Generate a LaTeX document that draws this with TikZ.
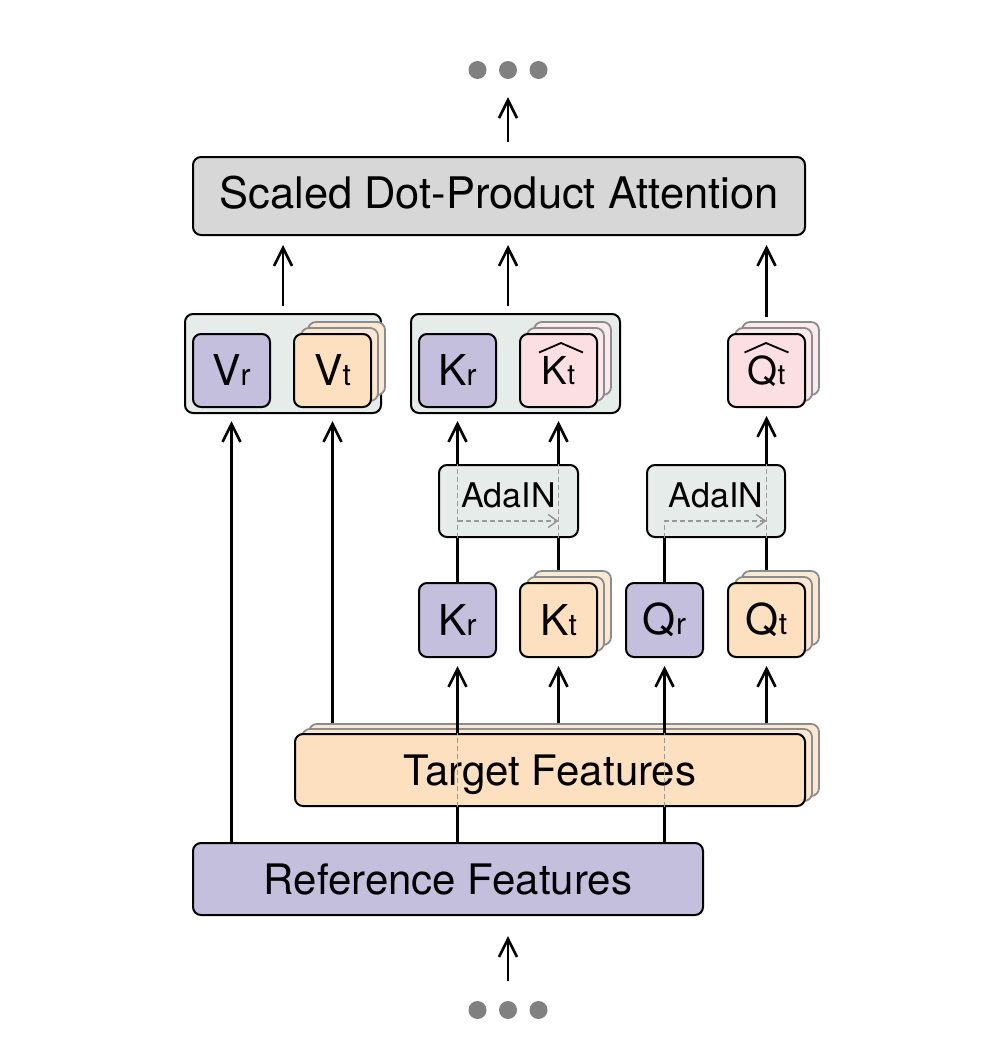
\documentclass[tikz,border=0pt]{standalone}
\usepackage{fontspec}
\setmainfont{TeX Gyre Heros}
\usetikzlibrary{arrows.meta,calc}
\definecolor{lav}{HTML}{C4BFDD}
\definecolor{peach}{HTML}{FDE0BF}
\definecolor{peachL}{HTML}{FBE8D2}
\definecolor{pinkc}{HTML}{FCDFE2}
\definecolor{pinkL}{HTML}{FBEAEB}
\definecolor{grp}{HTML}{E6ECEA}
\definecolor{sdpac}{HTML}{D7D7D7}
\definecolor{dotc}{HTML}{808080}
\newcommand\boxlbl[2]{\fontsize{42.5}{42.5}\selectfont #1\fontsize{30}{30}\selectfont #2}
\newcommand\hatlbl[2]{\fontsize{38.5}{38.5}\selectfont #1\fontsize{28}{28}\selectfont #2}
\begin{document}
\begin{tikzpicture}[x=1pt,y=-1pt,
  box/.style={draw=black, line width=2pt, rounded corners=8pt, inner sep=0pt},
  small/.style={box, minimum width=77pt, minimum height=73pt},
  copybox/.style={small, draw=black!45, line width=1.8pt},
  wide/.style={box, minimum width=510pt, minimum height=72pt},
  ada/.style={box, fill=grp, minimum height=72pt, text height=24pt, text depth=12pt, font=\fontsize{34}{34}\selectfont},
  hatted/.style={small, fill=pinkc, text height=28pt, text depth=-4pt},
  arr/.style={line width=2.6pt, -{Straight Barb[length=18pt,width=18pt,line width=2.6pt]}},
  ln/.style={line width=2.6pt},
  dsh/.style={draw=black!40, line width=1.5pt, dash pattern=on 5pt off 3pt},
  dsharr/.style={dsh, -{Straight Barb[length=9pt,width=13pt,line width=1.5pt]}},
  dotn/.style={circle, fill=dotc, inner sep=0pt, minimum size=18pt}
]
\useasboundingbox (0,0) rectangle (984,1058);

% dots
\node[dotn] (dTl) at (477.5,70) {};
\node[dotn] (dT) at (508,70) {};
\node[dotn] (dTr) at (538.5,70) {};
\node[dotn] (dBl) at (477.5,1010) {};
\node[dotn] (dB) at (508,1010) {};
\node[dotn] (dBr) at (538.5,1010) {};

% SDPA
\node[box, fill=sdpac, minimum width=612pt, minimum height=78pt, text height=30pt, text depth=5pt, font=\fontsize{43.5}{43.5}\selectfont] (sdpa) at (499,196) {Scaled Dot-Product Attention};

% groups
\node[box, fill=grp, minimum width=196pt, minimum height=99pt] (vg) at (283,363.5) {};
\node[box, fill=grp, minimum width=209pt, minimum height=99pt] (kg) at (515.5,363.5) {};

% top row
\node[small, fill=lav] (vr) at (231.5,370.5) {\boxlbl{V}{r}};
\node[copybox, fill=peachL] (vtb) at (346.5,358.5) {};
\node[copybox, fill=peachL] (vtm) at (339.5,364.5) {};
\node[small, fill=peach] (vt) at (332.5,370.5) {\boxlbl{V}{t}};

\node[small, fill=lav] (krt) at (457.5,370.5) {\boxlbl{K}{r}};
\node[copybox, fill=pinkL] (khtb) at (572.5,358.5) {};
\node[copybox, fill=pinkL] (khtm) at (565.5,364.5) {};
\node[hatted] (kht) at (558.5,370.5) {\hatlbl{K}{t}};
\draw[line width=1.8pt] ($(kht)+(-19.5,-18)$) -- ($(kht)+(2.5,-27.5)$) -- ($(kht)+(24.5,-18)$);

\node[copybox, fill=pinkL] (qhtb) at (780.5,358.5) {};
\node[copybox, fill=pinkL] (qhtm) at (773.5,364.5) {};
\node[hatted] (qht) at (766.5,370.5) {\hatlbl{Q}{t}};
\draw[line width=1.8pt] ($(qht)+(-22,-18)$) -- ($(qht)+(-0.5,-27.5)$) -- ($(qht)+(22,-18)$);

% AdaIN
\node[ada, minimum width=139pt] (ad1) at (508.5,501) {AdaIN};
\node[ada, minimum width=138pt] (ad2) at (716,501) {AdaIN};
\coordinate (ad1h) at ($(ad1.center)+(0,20)$);
\coordinate (ad2h) at ($(ad2.center)+(0,20)$);

% middle row
\node[small, fill=lav, minimum height=74pt] (kr) at (457.5,620) {\boxlbl{K}{r}};
\node[copybox, fill=peachL, minimum height=74pt] (ktb) at (572.5,608) {};
\node[copybox, fill=peachL, minimum height=74pt] (ktm) at (565.5,614) {};
\node[small, fill=peach, minimum height=74pt] (kt) at (558.5,620) {\boxlbl{K}{t}};
\node[small, fill=lav, minimum height=74pt] (qr) at (664.5,620) {\boxlbl{Q}{r}};
\node[copybox, fill=peachL, minimum height=74pt] (qtb) at (780.5,608) {};
\node[copybox, fill=peachL, minimum height=74pt] (qtm) at (773.5,614) {};
\node[small, fill=peach, minimum height=74pt] (qt) at (766.5,620) {\boxlbl{Q}{t}};

% features
\node[wide, draw=black!45, line width=1.8pt, fill=peachL] (tgb) at (564,760) {};
\node[wide, draw=black!45, line width=1.8pt, fill=peachL] (tgm) at (557,765) {};
\node[wide, fill=peach, text height=30pt, text depth=-6.5pt, font=\fontsize{42}{42}\selectfont] (tg) at (550,770) {Target Features};
\node[wide, fill=lav, text height=30pt, text depth=-8.5pt, font=\fontsize{42}{42}\selectfont] (ref) at (448,879) {Reference Features};

% connectors top
\draw[arr, shorten <=14pt, shorten >=18pt] (sdpa.north -| dT) -- (dT);
\draw[arr, shorten <=20pt, shorten >=20pt] (dB) -- (ref.south -| dB);
\draw[arr, shorten <=7pt, shorten >=9pt] (vg.north) -- (vg.north |- sdpa.south);
\draw[arr, shorten <=7pt, shorten >=9pt] (kg.north -| dT) -- (sdpa.south -| dT);
\draw[arr, shorten <=4pt, shorten >=9pt] (qhtb.north -| qht) -- (qht |- sdpa.south);

% V columns
\draw[arr, shorten >=7pt] (ref.north -| vr) -- (vr |- vg.south);
\draw[arr, shorten >=7pt] (tgb.north -| vt) -- (vt |- vg.south);

% K_r / Q_r through target
\draw[ln] (ref.north -| kr) -- (tg.south -| kr);
\draw[dsh] (tg.south -| kr) -- (tg.north -| kr);
\draw[arr, shorten >=8pt] (tg.north -| kr) -- (kr.south);
\draw[ln] (ref.north -| qr) -- (tg.south -| qr);
\draw[dsh] (tg.south -| qr) -- (tg.north -| qr);
\draw[arr, shorten >=8pt] (tg.north -| qr) -- (qr.south);
\draw[arr, shorten >=8pt] (tgb.north -| kt) -- (kt.south);
\draw[arr, shorten >=8pt] (tgb.north -| qt) -- (qt.south);

% left AdaIN
\draw[ln] (kr.north) -- (kr |- ad1.south);
\draw[dsh] (kr |- ad1.south) -- (kr |- ad1.north);
\draw[arr, shorten >=7pt] (kr |- ad1.north) -- (kr |- kg.south);
\draw[ln] (ktb.north -| kt) -- (kt |- ad1.south);
\draw[dsh] (kt |- ad1.south) -- (kt |- ad1.north);
\draw[arr, shorten >=7pt] (kt |- ad1.north) -- (kt |- kg.south);
\draw[dsharr] (kr |- ad1h) -- (kt |- ad1h);

% right AdaIN
\draw[ln] (qr.north) -- (qr |- ad2.south);
\draw[dsharr] (qr |- ad2.south) -- (qr |- ad2h) -- (qt |- ad2h);
\draw[ln] (qtb.north -| qt) -- (qt |- ad2.south);
\draw[dsh] (qt |- ad2.south) -- (qt |- ad2.north);
\draw[arr, shorten >=8pt] (qt |- ad2.north) -- (qht.south);
\end{tikzpicture}
\end{document}
